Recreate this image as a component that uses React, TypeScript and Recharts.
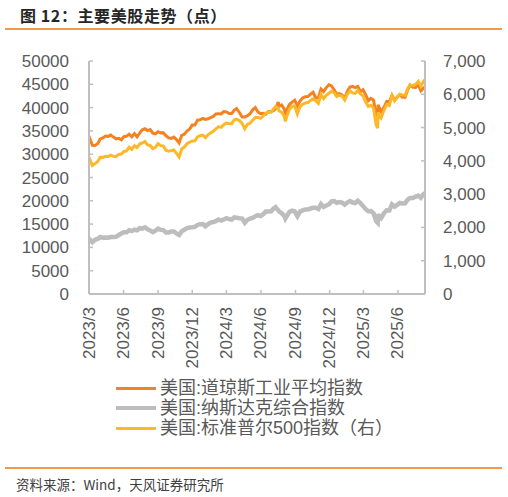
import { LineChart, Line, XAxis, YAxis, Legend } from 'recharts';

// weekly closes (plus a few big-move days), 2023/3 – 2025/8
const dates = [
  '2023-03-01', '2023-03-03', '2023-03-10', '2023-03-17', '2023-03-24', '2023-03-31',
  '2023-04-07', '2023-04-14', '2023-04-21', '2023-04-28',
  '2023-05-05', '2023-05-12', '2023-05-19', '2023-05-26',
  '2023-06-02', '2023-06-09', '2023-06-16', '2023-06-23', '2023-06-30',
  '2023-07-07', '2023-07-14', '2023-07-21', '2023-07-28',
  '2023-08-04', '2023-08-11', '2023-08-18', '2023-08-25',
  '2023-09-01', '2023-09-08', '2023-09-15', '2023-09-22', '2023-09-29',
  '2023-10-06', '2023-10-13', '2023-10-20', '2023-10-27',
  '2023-11-03', '2023-11-10', '2023-11-17', '2023-11-24',
  '2023-12-01', '2023-12-08', '2023-12-15', '2023-12-22', '2023-12-29',
  '2024-01-05', '2024-01-12', '2024-01-19', '2024-01-26',
  '2024-02-02', '2024-02-09', '2024-02-16', '2024-02-23',
  '2024-03-01', '2024-03-08', '2024-03-15', '2024-03-22', '2024-03-28',
  '2024-04-05', '2024-04-12', '2024-04-19', '2024-04-26',
  '2024-05-03', '2024-05-10', '2024-05-17', '2024-05-24', '2024-05-31',
  '2024-06-07', '2024-06-14', '2024-06-21', '2024-06-28',
  '2024-07-05', '2024-07-10', '2024-07-12', '2024-07-17', '2024-07-19', '2024-07-26',
  '2024-08-02', '2024-08-05', '2024-08-09', '2024-08-16', '2024-08-23', '2024-08-30',
  '2024-09-06', '2024-09-13', '2024-09-20', '2024-09-27',
  '2024-10-04', '2024-10-11', '2024-10-18', '2024-10-25',
  '2024-11-01', '2024-11-08', '2024-11-15', '2024-11-22', '2024-11-29',
  '2024-12-06', '2024-12-13', '2024-12-20', '2024-12-27',
  '2025-01-03', '2025-01-10', '2025-01-17', '2025-01-24', '2025-01-31',
  '2025-02-07', '2025-02-14', '2025-02-21', '2025-02-28',
  '2025-03-07', '2025-03-14', '2025-03-21', '2025-03-28',
  '2025-04-04', '2025-04-08', '2025-04-09', '2025-04-11', '2025-04-17', '2025-04-25',
  '2025-05-02', '2025-05-09', '2025-05-16', '2025-05-23', '2025-05-30',
  '2025-06-06', '2025-06-13', '2025-06-20', '2025-06-27',
  '2025-07-03', '2025-07-11', '2025-07-18', '2025-07-25',
  '2025-08-01', '2025-08-08', '2025-08-12',
];

const dow = [
  32662, 33391, 31910, 31862, 32237, 33274,
  33485, 33886, 33809, 34098,
  33674, 33300, 33427, 33093,
  33762, 33876, 34299, 33727, 34408,
  33734, 34509, 35228, 35459,
  35066, 35281, 34500, 34346,
  34838, 34577, 34618, 33964, 33508,
  33408, 33670, 33127, 32418,
  34061, 34283, 34947, 35390,
  36245, 36248, 37306, 37385, 37690,
  37466, 37593, 37863, 38109,
  38654, 38671, 38628, 39131,
  39087, 38723, 38715, 39476, 39807,
  38904, 37983, 37986, 38240,
  38676, 39513, 40004, 39070, 38686,
  38799, 38589, 39150, 39119,
  39376, 39721, 40001, 41198, 40288, 40589,
  39737, 38703, 39498, 40660, 41175, 41563,
  40345, 41394, 42063, 42313,
  42353, 42864, 43276, 42114,
  42052, 43989, 43445, 44297, 44911,
  44643, 43828, 42840, 42992,
  42732, 41938, 43488, 44424, 44545,
  44303, 44546, 43428, 43841,
  42802, 41488, 41985, 41584,
  38315, 37646, 40608, 40213, 39142, 40114,
  41317, 41249, 42655, 41603, 42270,
  42763, 42198, 42207, 43819,
  44829, 44372, 44342, 44902,
  43589, 44176, 44459,
];

const nasdaq = [
  11379, 11689, 11138, 11631, 11824, 12222,
  12088, 12123, 12072, 12227,
  12235, 12284, 12658, 12975,
  13241, 13259, 13689, 13492, 13788,
  13661, 14113, 14032, 14316,
  13909, 13645, 13290, 13590,
  14031, 13761, 13708, 13212, 13219,
  13431, 13407, 12984, 12643,
  13478, 13798, 14125, 14251,
  14305, 14404, 14814, 14993, 15011,
  14524, 14973, 15311, 15455,
  15629, 15990, 15776, 15997,
  16275, 16085, 15973, 16429, 16379,
  16249, 16175, 15282, 15928,
  16156, 16341, 16686, 16921, 16735,
  17133, 17689, 17689, 17733,
  18353, 18647, 18398, 17997, 17727, 17358,
  16776, 16200, 16745, 17632, 17877, 17714,
  16691, 17684, 17948, 18120,
  18138, 18343, 18490, 18519,
  18240, 19287, 18680, 19004, 19218,
  19860, 19927, 19573, 19723,
  19622, 19162, 19630, 19954, 19627,
  19524, 20027, 19524, 18847,
  18196, 17754, 17784, 17323,
  15588, 15268, 17125, 16724, 16286, 17383,
  17978, 17929, 19212, 18737, 19114,
  19530, 19407, 19447, 20273,
  20601, 20586, 20896, 21108,
  20650, 21450, 21682,
];

const spx = [
  3951, 4046, 3862, 3917, 3971, 4109,
  4105, 4138, 4133, 4169,
  4136, 4124, 4192, 4205,
  4282, 4299, 4410, 4348, 4450,
  4399, 4505, 4536, 4582,
  4478, 4464, 4370, 4406,
  4516, 4457, 4450, 4320, 4288,
  4308, 4328, 4224, 4117,
  4358, 4415, 4514, 4559,
  4595, 4604, 4719, 4755, 4770,
  4697, 4784, 4840, 4891,
  4959, 5027, 5006, 5089,
  5137, 5124, 5117, 5234, 5254,
  5204, 5123, 4967, 5100,
  5128, 5223, 5303, 5305, 5278,
  5347, 5432, 5465, 5460,
  5567, 5633, 5615, 5589, 5505, 5459,
  5346, 5186, 5344, 5554, 5634, 5648,
  5408, 5626, 5703, 5738,
  5751, 5815, 5864, 5808,
  5729, 5996, 5870, 5969, 6032,
  6090, 6051, 5931, 5971,
  5942, 5827, 5997, 6101, 6041,
  6026, 6115, 6013, 5955,
  5770, 5639, 5668, 5581,
  5074, 4982, 5457, 5363, 5283, 5525,
  5687, 5660, 5958, 5803, 5912,
  6000, 5977, 5967, 6173,
  6279, 6260, 6297, 6389,
  6238, 6389, 6446,
];

const xTickDates = [
  '2023-03-01', '2023-06-01', '2023-09-01', '2023-12-01', '2024-03-01',
  '2024-06-01', '2024-09-01', '2024-12-01', '2025-03-01', '2025-06-01',
];
const xTickLabels = [
  '2023/3', '2023/6', '2023/9', '2023/12', '2024/3',
  '2024/6', '2024/9', '2024/12', '2025/3', '2025/6',
];
const leftTicks = [0, 5000, 10000, 15000, 20000, 25000, 30000, 35000, 40000, 45000, 50000];
const rightTicks = [0, 1000, 2000, 3000, 4000, 5000, 6000, 7000];

const series = [
  { key: 'dow', name: '美国:道琼斯工业平均指数', color: '#F58220', width: 3, axis: 'left' },
  { key: 'nasdaq', name: '美国:纳斯达克综合指数', color: '#BDBDBD', width: 4.5, axis: 'left' },
  { key: 'spx', name: '美国:标准普尔500指数（右）', color: '#FDB827', width: 3, axis: 'right' },
];

const data = dates.map((d, i) => ({
  t: Date.parse(d),
  dow: dow[i],
  nasdaq: nasdaq[i],
  spx: spx[i],
}));

const xTicks = xTickDates.map(d => Date.parse(d));
const xDomain = [Date.parse(dates[0]), Date.parse(dates[dates.length - 1])];

const FONT = 'Arial, "Liberation Sans", "Noto Sans CJK SC", sans-serif';
const TEXT = '#595959';
const AXIS = '#BFBFBF';

function XTick(props: any) {
  const { x, y, payload } = props;
  const idx = xTicks.indexOf(payload.value);
  return (
    <text
      x={x}
      y={y}
      transform={`rotate(-90, ${x}, ${y})`}
      textAnchor="end"
      dominantBaseline="central"
      fill={TEXT}
      fontSize={17}
      fontFamily={FONT}
    >
      {idx >= 0 ? xTickLabels[idx] : ''}
    </text>
  );
}

function renderLegend(props: any) {
  // keep the series order (recharts sorts legend items by name otherwise)
  const items = [...(props.payload || [])].sort(
    (a: any, b: any) =>
      series.findIndex(s => s.key === a.dataKey) - series.findIndex(s => s.key === b.dataKey)
  );
  return (
    <div style={{ fontFamily: FONT, fontSize: 18, color: TEXT }}>
      {items.map((entry: any) => {
        const s = series.find(x => x.key === entry.dataKey) || series[0];
        return (
          <div key={s.key} style={{ display: 'flex', alignItems: 'center', height: 20, whiteSpace: 'nowrap' }}>
            <div style={{ width: 40, height: s.width, background: s.color, marginRight: 4 }} />
            <span style={{ lineHeight: '20px' }}>{entry.value}</span>
          </div>
        );
      })}
    </div>
  );
}

export default function App() {
  return (
    <div style={{ position: 'absolute', left: 0, top: 0, width: 508, height: 497, background: '#fff' }}>
      <div
        style={{
          position: 'absolute', left: 20, top: 6, fontSize: 16, lineHeight: '18px', fontWeight: 'bold',
          letterSpacing: 0.6, color: '#262626', fontFamily: '"Noto Sans CJK SC", sans-serif', whiteSpace: 'nowrap',
        }}
      >
        图 12：主要美股走势（点）
      </div>
      <div style={{ position: 'absolute', left: 5, top: 28, width: 497, height: 2, background: '#F39A48' }} />
      <div style={{ position: 'absolute', left: 0, top: 0 }}>
        <LineChart width={508} height={497} data={data} margin={{ top: 61, right: 0, bottom: 0, left: 0 }}>
          <XAxis
            dataKey="t"
            type="number"
            scale="linear"
            domain={xDomain}
            ticks={xTicks}
            interval={0}
            height={143}
            tick={<XTick />}
            tickSize={-4}
            tickMargin={17}
            axisLine={{ stroke: AXIS, strokeWidth: 2 }}
            tickLine={{ stroke: AXIS, strokeWidth: 1.5 }}
            allowDataOverflow
          />
          <YAxis
            yAxisId="left"
            orientation="left"
            width={89}
            domain={[0, 50000]}
            ticks={leftTicks}
            interval={0}
            tick={{ fill: TEXT, fontSize: 17, fontFamily: FONT }}
            tickSize={-4}
            tickMargin={24}
            axisLine={{ stroke: AXIS, strokeWidth: 2 }}
            tickLine={{ stroke: AXIS, strokeWidth: 1.5 }}
          />
          <YAxis
            yAxisId="right"
            orientation="right"
            width={83}
            domain={[0, 7000]}
            ticks={rightTicks}
            interval={0}
            tickFormatter={(v: number) => v.toLocaleString('en-US')}
            tick={{ fill: TEXT, fontSize: 17, fontFamily: FONT }}
            tickSize={-4}
            tickMargin={22}
            axisLine={{ stroke: AXIS, strokeWidth: 2 }}
            tickLine={{ stroke: AXIS, strokeWidth: 1.5 }}
          />
          <Legend
            verticalAlign="bottom"
            content={renderLegend}
            wrapperStyle={{ top: 378, left: 116, width: 320, height: 60, bottom: 'auto' }}
          />
          {series.map(s => (
            <Line
              key={s.key}
              yAxisId={s.axis}
              dataKey={s.key}
              name={s.name}
              type="linear"
              stroke={s.color}
              strokeWidth={s.width}
              dot={false}
              activeDot={false}
              isAnimationActive={false}
            />
          ))}
        </LineChart>
      </div>
      <div style={{ position: 'absolute', left: 5, top: 467, width: 497, height: 2, background: '#F39A48' }} />
      <div
        style={{
          position: 'absolute', left: 16, top: 477, fontSize: 13.5, lineHeight: '14px', color: '#404040',
          fontFamily: '"Noto Sans CJK SC", sans-serif', whiteSpace: 'nowrap',
        }}
      >
        资料来源：Wind，天风证券研究所
      </div>
    </div>
  );
}
